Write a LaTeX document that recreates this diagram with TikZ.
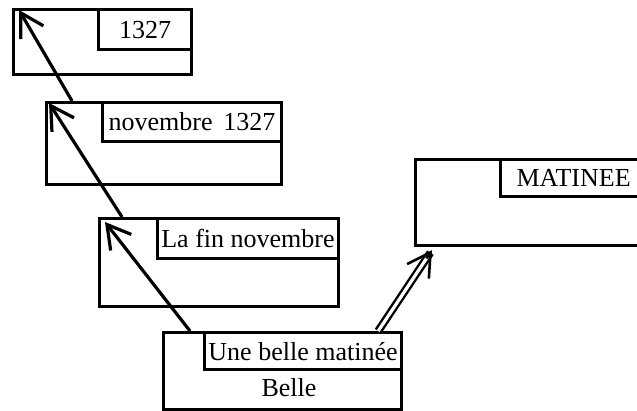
\documentclass[tikz,border=0pt]{standalone}
\usepackage{fontspec}
\setmainfont{Liberation Serif}
\usetikzlibrary{arrows.meta,positioning,calc}

\begin{document}
\begin{tikzpicture}[
  x=0.5pt, y=-0.5pt,
  font=\fontsize{13}{15}\selectfont,
  frame/.style={draw, line width=1.6pt, inner sep=0pt, anchor=north west},
  tag/.style={draw, line width=1.6pt, inner sep=2pt, anchor=north east},
  arr/.style={-{Straight Barb[length=4mm, width=4.6mm]}, line width=1.6pt},
  dbl/.style={double, double distance=1.6pt, line width=1.2pt, shorten >=1.5pt}
]
\useasboundingbox (0,0) rectangle (637,411);
\clip (0,0) rectangle (637,411);

% --- chain of dates
\node[frame, minimum width=89pt, minimum height=32.5pt] (d1) at (12,8) {};
\node[tag, minimum width=46.5pt, minimum height=20pt] (d1l) at (d1.north east) {1327};
\node[frame, minimum width=117.5pt, minimum height=41pt] (d2) at (45,101) {};
\node[tag, minimum width=89.5pt, minimum height=19.5pt] (d2l) at (d2.north east) {novembre\ \,1327};
\node[frame, minimum width=119.5pt, minimum height=44pt] (d3) at (98,217) {};
\node[tag, minimum width=89.5pt, minimum height=20pt] (d3l) at (d3.north east) {La fin novembre};
\node[frame, minimum width=119pt, minimum height=38.5pt] (d4) at (162,331) {};
\node[tag, minimum width=98.5pt, minimum height=18.5pt] (d4l) at (d4.north east) {Une belle matinée};
\node (belle) at (289,388) {Belle};

% --- the other box
\node[frame, minimum width=115.5pt, minimum height=43pt] (m) at (414,158) {};
\node[tag, minimum width=73pt, minimum height=18.5pt] (ml) at (m.north east) {MATINEE};

% --- links
\draw[arr] ([xshift=14pt]d4.north west) -- ([shift={(3.5pt,-2.5pt)}]d3.north west);
\draw[arr] ([xshift=12pt]d3.north west) -- ([shift={(2pt,-1pt)}]d2.north west);
\draw[arr] ([xshift=13.5pt]d2.north west) -- ([shift={(3.5pt,-1pt)}]d1.north west);
\coordinate (d4out) at ([xshift=-12.5pt]d4.north east);
\coordinate (mtip) at ([shift={(9pt,-1.5pt)}]m.south west);
\draw[dbl] (d4out) -- (mtip);
\draw[arr, line width=1.3pt] ($(mtip)!5pt!(d4out)$) -- (mtip);
\end{tikzpicture}
\end{document}
